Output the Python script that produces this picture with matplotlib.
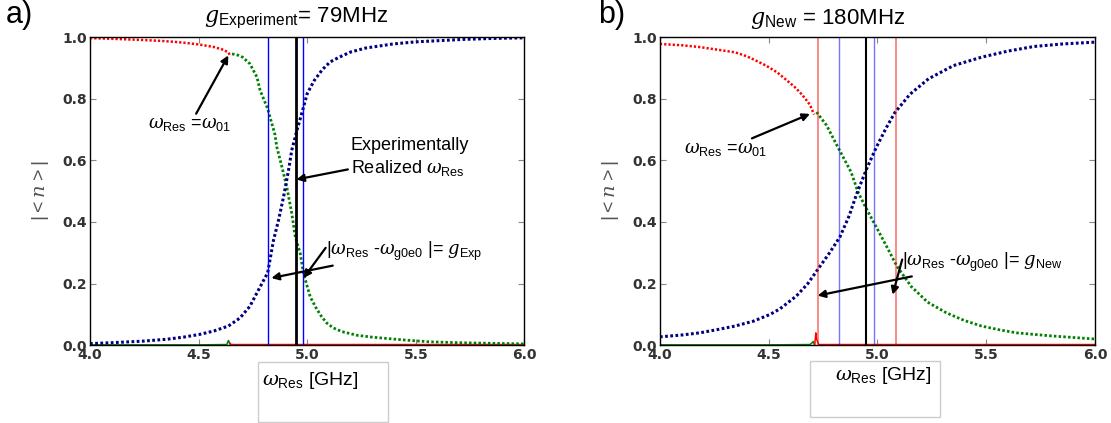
import numpy as np
import matplotlib
matplotlib.use("Agg")
import matplotlib.pyplot as plt
from matplotlib.patches import Rectangle

plt.rcParams['font.family'] = ['Liberation Sans', 'DejaVu Sans']
plt.rcParams['mathtext.fontset'] = 'custom'
plt.rcParams['mathtext.rm'] = 'Liberation Sans'
plt.rcParams['mathtext.sf'] = 'Liberation Sans'
plt.rcParams['mathtext.it'] = 'DejaVu Serif:italic'
plt.rcParams['mathtext.bf'] = 'Liberation Sans:bold'

# ---- panel a) g = 79 MHz : values ----
a_red_x = [4.0, 4.1, 4.242, 4.33, 4.407, 4.46, 4.505, 4.54, 4.571, 4.61, 4.637, 4.645]
a_red_y = [0.997, 0.995, 0.991, 0.988, 0.984, 0.980, 0.976, 0.972, 0.968, 0.960, 0.951, 0.94]
a_green_x = [4.654, 4.68, 4.703, 4.736, 4.769, 4.783, 4.818, 4.837, 4.851, 4.860, 4.884, 4.906,
             4.929, 4.945, 4.968, 4.983, 5.014, 5.04, 5.065, 5.09, 5.12, 5.16, 5.23, 5.3,
             5.394, 5.48, 5.56, 5.7, 5.85, 6.0]
a_green_y = [0.946, 0.942, 0.935, 0.914, 0.870, 0.828, 0.768, 0.720, 0.686, 0.644, 0.578, 0.514,
             0.428, 0.352, 0.298, 0.233, 0.157, 0.122, 0.094, 0.072, 0.056, 0.044, 0.032, 0.026,
             0.020, 0.015, 0.011, 0.008, 0.006, 0.004]
a_blue_x = [4.0, 4.1, 4.242, 4.35, 4.43, 4.505, 4.57, 4.637, 4.69, 4.736, 4.783, 4.818, 4.845,
            4.868, 4.891, 4.914, 4.929, 4.953, 4.983, 5.0, 5.032, 5.07, 5.106, 5.147, 5.2,
            5.27, 5.394, 5.5, 5.72, 5.85, 6.0]
a_blue_y = [0.005, 0.008, 0.013, 0.019, 0.026, 0.035, 0.046, 0.062, 0.088, 0.126, 0.189, 0.235,
            0.341, 0.406, 0.481, 0.568, 0.633, 0.698, 0.773, 0.817, 0.859, 0.895, 0.920, 0.935,
            0.952, 0.965, 0.978, 0.985, 0.993, 0.996, 0.998]
a_green_low_x = [4.0, 4.5, 4.63, 4.637, 4.64, 4.645]
a_green_low_y = [0.001, 0.001, 0.002, 0.015, 0.012, 0.002]
a_red_low_x = [4.645, 4.65, 5.0, 5.5, 6.0]
a_red_low_y = [0.006, 0.002, 0.002, 0.002, 0.002]
a_blue_lines = [4.821, 4.981]
a_black_line = 4.949

# ---- panel b) g = 180 MHz ----
b_red_x = [4.0, 4.1, 4.183, 4.26, 4.345, 4.40, 4.442, 4.49, 4.539, 4.58, 4.62, 4.645, 4.669,
           4.69, 4.701, 4.709]
b_red_y = [0.978, 0.974, 0.968, 0.960, 0.951, 0.938, 0.924, 0.907, 0.886, 0.862, 0.838, 0.820,
           0.800, 0.780, 0.762, 0.749]
b_green_x = [4.72, 4.766, 4.822, 4.879, 4.911, 4.944, 4.993, 5.042, 5.09, 5.155, 5.23, 5.317,
             5.4, 5.479, 5.56, 5.64, 5.8, 6.0]
b_green_y = [0.757, 0.714, 0.638, 0.562, 0.497, 0.450, 0.386, 0.321, 0.256, 0.191, 0.140,
             0.105, 0.080, 0.062, 0.050, 0.040, 0.030, 0.020]
b_blue_x = [4.0, 4.1, 4.183, 4.26, 4.345, 4.43, 4.507, 4.552, 4.628, 4.68, 4.725, 4.78, 4.828,
            4.87, 4.904, 4.95, 4.996, 5.04, 5.08, 5.15, 5.235, 5.35, 5.478, 5.6, 5.721, 5.85, 6.0]
b_blue_y = [0.027, 0.033, 0.040, 0.050, 0.062, 0.078, 0.100, 0.118, 0.160, 0.200, 0.245, 0.300,
            0.352, 0.420, 0.490, 0.572, 0.644, 0.705, 0.755, 0.815, 0.865, 0.908, 0.935, 0.955,
            0.970, 0.978, 0.984]
b_green_low_x = [4.0, 4.5, 4.69, 4.70, 4.705, 4.71]
b_green_low_y = [0.001, 0.001, 0.002, 0.008, 0.012, 0.002]
b_red_low_x = [4.712, 4.717, 4.72, 4.73, 5.0, 5.5, 6.0]
b_red_low_y = [0.002, 0.040, 0.020, 0.002, 0.002, 0.002, 0.002]
b_red_lines = [4.725, 5.085]
b_blue_lines = [4.822, 4.983]
b_black_line = 4.949

xticks = [4.0, 4.5, 5.0, 5.5, 6.0]
yticks = [0.0, 0.2, 0.4, 0.6, 0.8, 1.0]

fig = plt.figure(figsize=(11.11, 4.23), dpi=100)
axa = fig.add_axes([0.081, 0.184, 0.391, 0.728])
axb = fig.add_axes([0.594, 0.184, 0.3915, 0.728])

dot = (0, (0.9, 0.8))


def curves(ax, rx, ry, gx, gy, bx, by, glx, gly, rlx, rly):
    ax.plot(glx, gly, color='green', lw=1.1)
    ax.plot(rlx, rly, color='red', lw=1.1)
    ax.plot(rx, ry, color='red', lw=1.8, ls=dot)
    ax.plot(gx, gy, color='green', lw=2.0, ls=dot)
    ax.plot(bx, by, color='#000080', lw=2.2, ls=dot)


def style(ax):
    ax.set_xlim(4.0, 6.0)
    ax.set_ylim(0.0, 1.0)
    ax.set_xticks(xticks)
    ax.set_yticks(yticks)
    ax.set_xticklabels(['%.1f' % t for t in xticks])
    ax.set_yticklabels(['%.1f' % t for t in yticks])
    ax.tick_params(direction='in', top=True, right=True, length=4, color='#888888',
                   labelsize=10, labelcolor='#333333', pad=2)
    for lab in ax.get_xticklabels() + ax.get_yticklabels():
        lab.set_family('DejaVu Sans')
        lab.set_fontweight('bold')
    for s in ax.spines.values():
        s.set_linewidth(1.0)


arrow = dict(arrowstyle='-|>', color='k', lw=1.6, mutation_scale=11, shrinkA=0, shrinkB=0)

# panel a
curves(axa, a_red_x, a_red_y, a_green_x, a_green_y, a_blue_x, a_blue_y,
       a_green_low_x, a_green_low_y, a_red_low_x, a_red_low_y)
for xv in a_blue_lines:
    axa.axvline(xv, color='blue', lw=1.0)
axa.axvline(a_black_line, color='k', lw=2.0)
style(axa)
axa.text(4.95, 1.02, r'$g_{\mathrm{Experiment}}$= 79MHz', ha='center', va='bottom', fontsize=16)
axa.annotate(r'$\omega_{\mathrm{Res}}$ =$\omega_{\mathrm{01}}$', xy=(4.637, 0.941), xytext=(4.46, 0.715),
             ha='center', va='center', fontsize=13, arrowprops=arrow)
axa.annotate('Experimentally\nRealized ' + r'$\omega_{\mathrm{Res}}$', xy=(4.95, 0.538),
             xytext=(5.2, 0.61), ha='left', va='center', fontsize=13, linespacing=1.3,
             arrowprops=arrow)
axa.annotate(r'$|\omega_{\mathrm{Res}}$ -$\omega_{\mathrm{g0e0}}$ |= $g_{\mathrm{Exp}}$',
             xy=(4.835, 0.218), xytext=(5.085, 0.305), ha='left', va='center', fontsize=13,
             arrowprops=arrow)
axa.annotate('', xy=(4.983, 0.218), xytext=(5.085, 0.316), arrowprops=arrow)
axa.set_ylabel(r'$|<n>|$', fontsize=14, color='#555555', labelpad=8)
fig.text(0.005, 0.965, 'a)', fontsize=22, va='center')
fig.patches.append(Rectangle((258 / 1111, 1 - 422 / 423), 130 / 1111, 60 / 423,
                             transform=fig.transFigure, fill=False, edgecolor='#cccccc', lw=1.0))
fig.text(262 / 1111, 1 - 380 / 423, r'$\omega_{\mathrm{Res}}$ [GHz]', fontsize=14, va='center')

# panel b
curves(axb, b_red_x, b_red_y, b_green_x, b_green_y, b_blue_x, b_blue_y,
       b_green_low_x, b_green_low_y, b_red_low_x, b_red_low_y)
for xv in b_red_lines:
    axb.axvline(xv, color='red', lw=1.2, alpha=0.55)
for xv in b_blue_lines:
    axb.axvline(xv, color='blue', lw=1.0, alpha=0.55)
axb.axvline(b_black_line, color='k', lw=1.5)
style(axb)
axb.text(4.77, 1.02, r'$g_{\mathrm{New}}$ = 180MHz', ha='center', va='bottom', fontsize=16)
axb.annotate(r'$\omega_{\mathrm{Res}}$ =$\omega_{\mathrm{01}}$', xy=(4.69, 0.751), xytext=(4.3, 0.635),
             ha='center', va='center', fontsize=13, arrowprops=arrow)
axb.annotate(r'$|\omega_{\mathrm{Res}}$ -$\omega_{\mathrm{g0e0}}$ |= $g_{\mathrm{New}}$',
             xy=(4.725, 0.161), xytext=(5.114, 0.27), ha='left', va='center', fontsize=13,
             arrowprops=arrow)
axb.annotate('', xy=(5.07, 0.164), xytext=(5.114, 0.278), arrowprops=arrow)
axb.set_ylabel(r'$|<n>|$', fontsize=14, color='#555555', labelpad=8)
fig.text(0.538, 0.965, 'b)', fontsize=22, va='center')
fig.patches.append(Rectangle((810 / 1111, 1 - 417 / 423), 130 / 1111, 56 / 423,
                             transform=fig.transFigure, fill=False, edgecolor='#cccccc', lw=1.0))
fig.text(835 / 1111, 1 - 376 / 423, r'$\omega_{\mathrm{Res}}$ [GHz]', fontsize=14, va='center')

fig.savefig('out.png', dpi=100)
